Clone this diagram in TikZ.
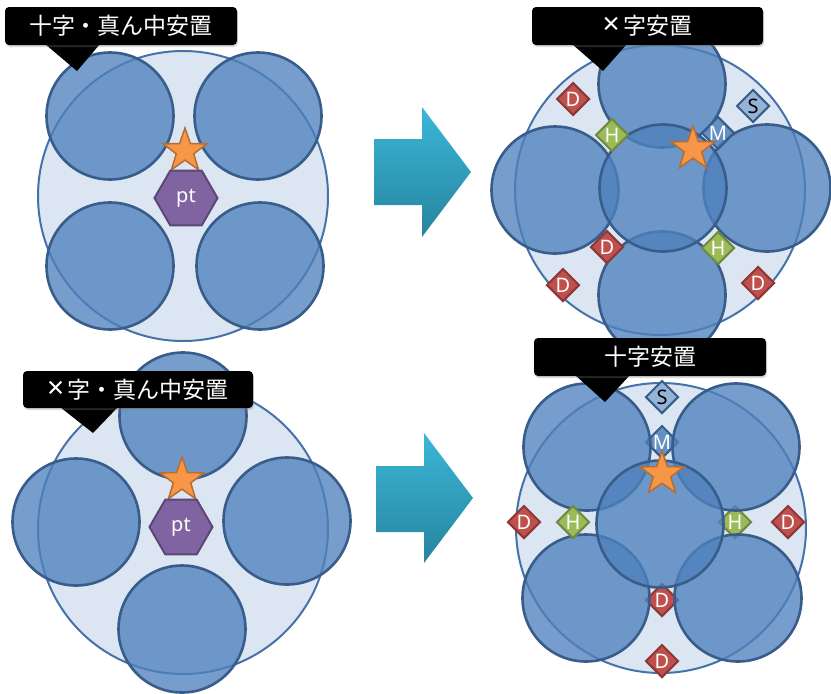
\documentclass[tikz,border=0pt]{standalone}
\usepackage{fontspec}
\setmainfont{Noto Sans}
\newfontfamily\jpfont{Noto Sans CJK JP}
\newfontfamily\latinfont{Noto Sans}
\usetikzlibrary{shapes.geometric,shadows}

\definecolor{ringfill}{RGB}{220,230,242}
\definecolor{ringline}{RGB}{70,114,170}
\definecolor{poolfill}{RGB}{79,129,189}
\definecolor{poolline}{RGB}{56,93,138}
\definecolor{starfill}{RGB}{247,150,70}
\definecolor{starline}{RGB}{182,109,49}
\definecolor{hexfill}{RGB}{128,100,162}
\definecolor{hexline}{RGB}{92,71,118}
\definecolor{dfill}{RGB}{192,80,77}
\definecolor{dline}{RGB}{140,56,54}
\definecolor{hfill}{RGB}{155,187,89}
\definecolor{hline}{RGB}{113,137,63}
\definecolor{sfill}{RGB}{149,179,215}
\definecolor{arrowtop}{RGB}{60,182,216}
\definecolor{arrowbot}{RGB}{38,132,158}

\newcommand{\crossmark}{{\latinfont\fontsize{30}{28}\selectfont ×}\,}

\tikzset{
  ring/.style={shape=circle,fill=ringfill,draw=ringline,line width=2pt,
    minimum size=290pt,inner sep=0pt},
  pool/.style={shape=circle,fill=poolfill,fill opacity=0.78,draw=poolline,
    line width=2.6pt,minimum size=127pt,inner sep=0pt},
  boss/.style={shape=star,star points=5,star point ratio=2.5,minimum size=46pt,
    inner sep=0pt,fill=starfill,draw=starline,line width=1.5pt},
  ptmark/.style={shape=regular polygon,regular polygon sides=6,minimum size=63pt,
    inner sep=0pt,fill=hexfill,draw=hexline,line width=2pt,text=white,
    font=\fontsize{20}{20}\selectfont},
  tag/.style={shape=diamond,minimum width=33pt,minimum height=33pt,inner sep=0pt,
    line width=2pt,font=\fontsize{20}{20}\selectfont},
  tagD/.style={tag,fill=dfill,draw=dline,text=white},
  tagH/.style={tag,fill=hfill,draw=hline,text=white},
  tagS/.style={tag,fill=sfill,draw=poolline,text=black},
  tagM/.style={tag,fill=poolfill,fill opacity=0.85,text opacity=1,draw=poolline,text=white},
  callout/.style={fill=black,rounded corners=4pt,text=white,inner sep=0pt,
    font=\jpfont\fontsize{23}{28}\selectfont,minimum width=232pt,minimum height=38pt,
    drop shadow={opacity=0.3,shadow xshift=1pt,shadow yshift=-2pt}},
  bigarrow/.style={top color=arrowtop,bottom color=arrowbot}
}

\begin{document}
\begin{tikzpicture}[x=1pt,y=-1pt]
      \useasboundingbox (0,0) rectangle (831,694) ;
      % top left
      \node[ring] (R1) at (183,196) {} ;
      \node[pool] (A1) at (110,116) {} ;
      \node[pool] (A2) at (258,116) {} ;
      \node[pool] (A3) at (110,266) {} ;
      \node[pool] (A4) at (260,266) {} ;
      \node[boss] (S1) at (185,151) {} ;
      \node[ptmark] (T1) at (186,198) {pt} ;
      % bottom left
      \node[ring] (R2) at (183,529) {} ;
      \node[pool] (B1) at (183,416) {} ;
      \node[pool] (B2) at (76,522) {} ;
      \node[pool] (B3) at (287,521) {} ;
      \node[pool] (B4) at (182,629) {} ;
      \node[boss] (S2) at (182,480) {} ;
      \node[ptmark] (T2) at (181,527) {pt} ;
      % top right
      \node[ring] (R3) at (660,190) {} ;
      \node[pool] (X1) at (662,84) {} ;
      \node[pool] (X2) at (555,190) {} ;
      \node[pool] (X3) at (767,188) {} ;
      \node[pool] (X4) at (662,295) {} ;
      \node[pool] (X5) at (663,188) {} ;
      \node[tagD] (XD1) at (573,99) {D} ;
      \node[tagS] (XS) at (753,106) {S} ;
      \node[tagH] (XH1) at (612,135) {H} ;
      \node[tagM] (XM) at (718,133) {M} ;
      \node[tagD] (XD2) at (607,247) {D} ;
      \node[tagH] (XH2) at (718,248) {H} ;
      \node[tagD] (XD3) at (563,285) {D} ;
      \node[tagD] (XD4) at (758,283) {D} ;
      \node[boss] (S3) at (693,149) {} ;
      % bottom right
      \node[ring] (R4) at (661,528) {} ;
      \node[tagM] (YM) at (662,442) {M} ;
      \node[tagH] (YH2) at (735,522) {H} ;
      \node[tagD] (YD2) at (662,600) {D} ;
      \node[pool] (Y1) at (587,447) {} ;
      \node[pool] (Y2) at (736,447) {} ;
      \node[pool] (Y3) at (586,598) {} ;
      \node[pool] (Y4) at (738,598) {} ;
      \node[pool] (Y5) at (660,524) {} ;
      \node[tagS] (YS) at (662,397) {S} ;
      \node[tagD] (YD1) at (524,522) {D} ;
      \node[tagH] (YH1) at (573,522) {H} ;
      \node[tagD] (YD4) at (788,522) {D} ;
      \node[tagD] (YD3) at (662,661) {D} ;
      \node[boss] (S4) at (662,474) {} ;
      % arrows
      \shade[bigarrow] (374,139)--(422,139)--(422,107)--(471,172)--(422,237)--(422,205)--(374,205)--cycle ;
      \shade[bigarrow] (376,466)--(424,466)--(424,433)--(473,498)--(424,563)--(424,532)--(376,532)--cycle ;
      % labels
      \fill (45,44)--(77,71)--(100,44)--cycle ;
      \node[callout] (C1) at (121,26) {十字・真ん中安置} ;
      \fill (60,407)--(93,433)--(118,407)--cycle ;
      \node[callout,minimum width=230pt,minimum height=37pt] (C2) at (138,389.5) %
      {\crossmark 字・真ん中安置} ;
      \fill (572,44)--(603,71)--(627,44)--cycle ;
      \node[callout,minimum width=231pt] (C3) at (647.5,26) {\crossmark 字安置} ;
      \fill (575,375)--(605,402)--(630,375)--cycle ;
      \node[callout] (C4) at (650,357) {十字安置} ;
\end{tikzpicture}
\end{document}
